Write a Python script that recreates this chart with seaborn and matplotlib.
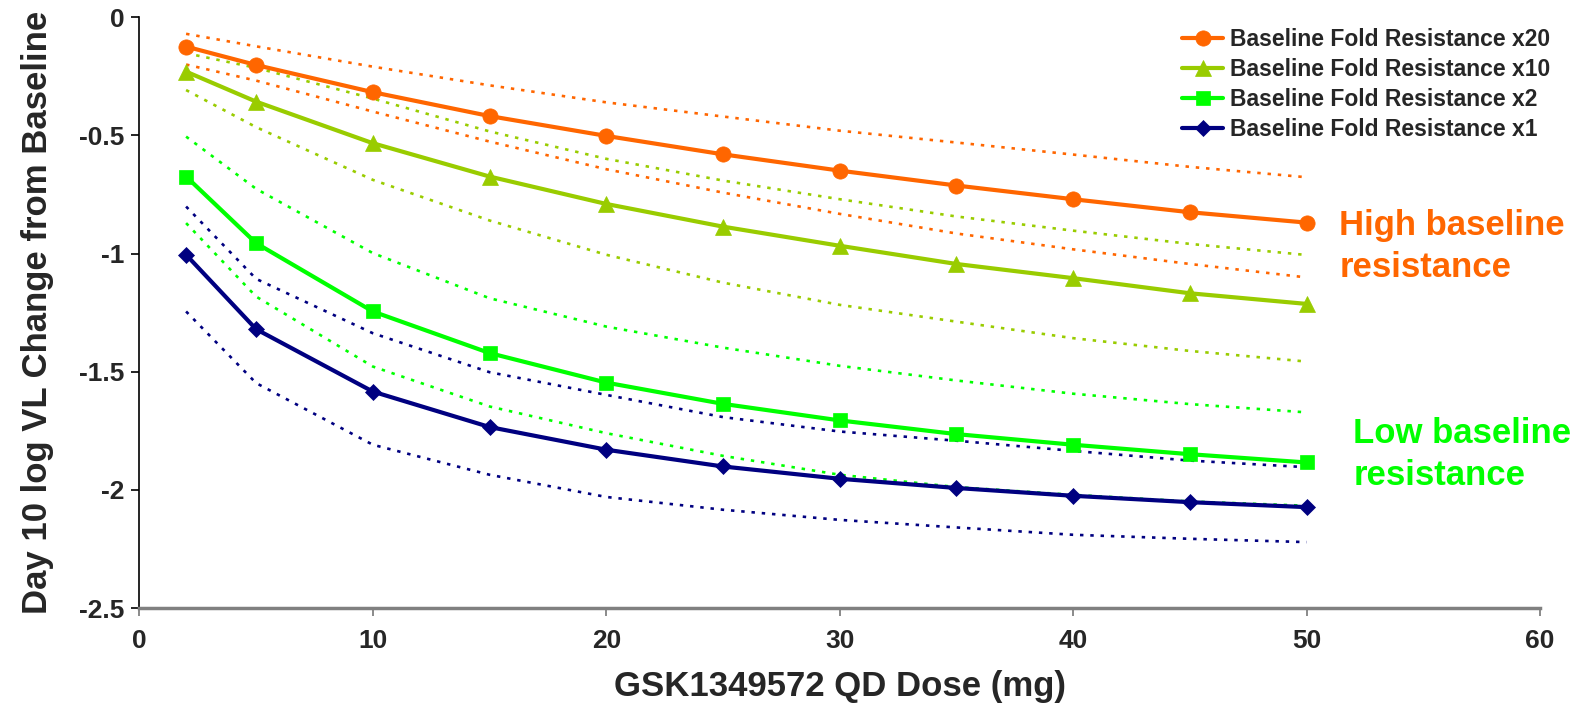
import matplotlib
matplotlib.use("Agg")
import matplotlib.pyplot as plt
import seaborn as sns
import pandas as pd

doses = [2, 5, 10, 15, 20, 25, 30, 35, 40, 45, 50]

x20_mid = [-0.124, -0.202, -0.317, -0.418, -0.502, -0.580, -0.649, -0.712, -0.770, -0.825, -0.869]
x20_up = [-0.070, -0.123, -0.209, -0.288, -0.360, -0.420, -0.480, -0.530, -0.581, -0.633, -0.677]
x20_lo = [-0.200, -0.268, -0.399, -0.526, -0.643, -0.742, -0.832, -0.915, -0.982, -1.044, -1.101]

x10_mid = [-0.230, -0.357, -0.533, -0.674, -0.790, -0.886, -0.967, -1.044, -1.104, -1.168, -1.213]
x10_up = [-0.152, -0.214, -0.344, -0.483, -0.599, -0.691, -0.770, -0.843, -0.903, -0.959, -1.006]
x10_lo = [-0.308, -0.465, -0.688, -0.860, -1.005, -1.123, -1.217, -1.288, -1.358, -1.412, -1.457]

x2_mid = [-0.674, -0.956, -1.245, -1.421, -1.546, -1.636, -1.706, -1.764, -1.809, -1.849, -1.884]
x2_up = [-0.505, -0.726, -0.998, -1.189, -1.309, -1.398, -1.475, -1.537, -1.593, -1.637, -1.672]
x2_lo = [-0.871, -1.182, -1.478, -1.647, -1.760, -1.856, -1.936, -1.988, -2.021, -2.049, -2.067]

x1_mid = [-1.005, -1.320, -1.584, -1.734, -1.830, -1.901, -1.953, -1.992, -2.025, -2.052, -2.073]
x1_up = [-0.801, -1.107, -1.337, -1.502, -1.598, -1.692, -1.753, -1.792, -1.835, -1.876, -1.904]
x1_lo = [-1.245, -1.548, -1.809, -1.936, -2.030, -2.084, -2.127, -2.159, -2.190, -2.207, -2.221]

labels = ["Baseline Fold Resistance x20", "Baseline Fold Resistance x10",
          "Baseline Fold Resistance x2", "Baseline Fold Resistance x1"]
colors = ["#FF6600", "#99CC00", "#00FF00", "#000080"]
markers = ["o", "^", "s", "D"]
msizes = [11, 11, 10, 8]
mids = [x20_mid, x10_mid, x2_mid, x1_mid]
ups = [x20_up, x10_up, x2_up, x1_up]
los = [x20_lo, x10_lo, x2_lo, x1_lo]

yticks = [0, -0.5, -1, -1.5, -2, -2.5]
yticklabels = ["0", "-0.5", "-1", "-1.5", "-2", "-2.5"]
xticks = [0, 10, 20, 30, 40, 50, 60]

sns.set_theme(style="white")
plt.rcParams["font.family"] = ["Liberation Sans", "DejaVu Sans"]
plt.rcParams["font.weight"] = "bold"
plt.rcParams["axes.unicode_minus"] = False

fig = plt.figure(figsize=(15.95, 7.08), dpi=100)
ax = fig.add_axes([0.0874, 0.1412, 0.8781, 0.8344])

dot = (0, (1.3, 2.6))
for col, up, lo in zip(colors, ups, los):
    sns.lineplot(x=doses, y=up, color=col, linewidth=1.9, linestyle=dot, ax=ax, zorder=2)
    sns.lineplot(x=doses, y=lo, color=col, linewidth=1.9, linestyle=dot, ax=ax, zorder=2)

for lab, col, mk, ms, mid in zip(labels, colors, markers, msizes, mids):
    df = pd.DataFrame({"dose": doses, "val": mid})
    sns.lineplot(data=df, x="dose", y="val", color=col, linewidth=3, marker=mk,
                 markersize=ms, markeredgecolor=col, markeredgewidth=0.5,
                 label=lab, ax=ax, zorder=3)

ax.set_xlim(0, 60)
ax.set_ylim(-2.5, 0)
ax.set_xticks(xticks)
ax.set_xticklabels([str(v) for v in xticks], fontsize=19, fontweight="bold")
ax.set_yticks(yticks)
ax.set_yticklabels(yticklabels, fontsize=19, fontweight="bold")
ax.tick_params(axis="y", direction="out", length=6, width=1.2, color="black", pad=5, left=True)
ax.tick_params(axis="x", direction="out", length=6, width=1.2, color="#777777", pad=9, bottom=True)

for s in ["top", "right"]:
    ax.spines[s].set_visible(False)
ax.spines["left"].set_color("black")
ax.spines["left"].set_linewidth(1.2)
ax.spines["bottom"].set_color("#808080")
ax.spines["bottom"].set_linewidth(2.5)
ax.grid(False)

ax.set_xlabel("GSK1349572 QD Dose (mg)", fontsize=25, fontweight="bold", labelpad=12)
ax.set_ylabel("Day 10 log VL Change from Baseline", fontsize=25, fontweight="bold", labelpad=18)

ax.text(51.4, -0.97, "High baseline\nresistance", color="#FF6600", fontsize=25,
        fontweight="bold", ha="left", va="center", linespacing=1.32, clip_on=False)
ax.text(52.0, -1.85, "Low baseline\nresistance", color="#00FF00", fontsize=25,
        fontweight="bold", ha="left", va="center", linespacing=1.32, clip_on=False)

leg = ax.legend(loc="upper left", bbox_to_anchor=(0.741, 0.960), bbox_transform=fig.transFigure,
                frameon=False, fontsize=16.5, handlelength=1.8, handletextpad=0.3,
                labelspacing=0.3, borderpad=0, borderaxespad=0)
for t in leg.get_texts():
    t.set_fontweight("bold")

fig.savefig("out.png", dpi=100)
